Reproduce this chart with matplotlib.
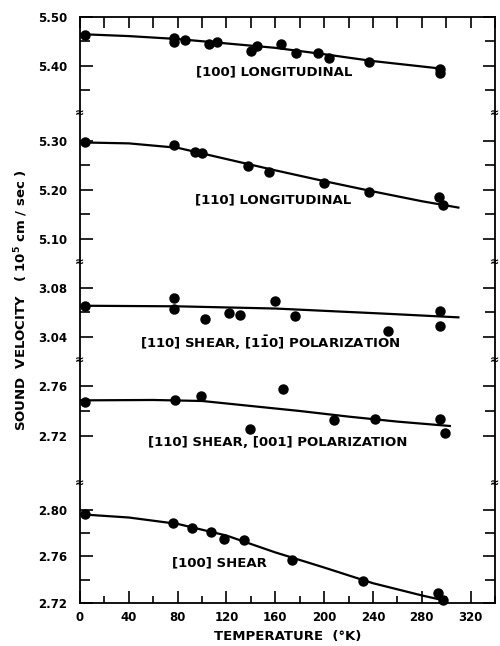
import matplotlib
matplotlib.use("Agg")
import matplotlib.pyplot as plt
from matplotlib.ticker import MultipleLocator, FixedLocator, FormatStrFormatter

plt.rcParams['font.family'] = ['DejaVu Sans']
plt.rcParams['font.weight'] = 'bold'
plt.rcParams['mathtext.fontset'] = 'dejavusans'

# ---- data (temperature in K, velocity in 1e5 cm/s) ----
T_100L = [4, 77, 77, 86, 106, 112, 140, 145, 165, 177, 195, 204, 237, 295, 295]
V_100L = [5.463, 5.458, 5.448, 5.454, 5.445, 5.449, 5.431, 5.441, 5.444, 5.427,
          5.427, 5.416, 5.408, 5.393, 5.385]
FT_100L = [0, 40, 80, 120, 160, 200, 240, 280, 298]
FV_100L = [5.465, 5.461, 5.455, 5.446, 5.437, 5.424, 5.410, 5.399, 5.394]

T_110L = [4, 77, 94, 100, 138, 155, 200, 237, 294, 297]
V_110L = [5.297, 5.291, 5.277, 5.276, 5.249, 5.237, 5.214, 5.196, 5.186, 5.169]
FT_110L = [0, 40, 80, 120, 160, 200, 240, 280, 310]
FV_110L = [5.297, 5.295, 5.286, 5.263, 5.240, 5.218, 5.197, 5.177, 5.164]

T_110S1 = [4, 77, 77, 102, 122, 131, 160, 176, 252, 295, 295]
V_110S1 = [3.0653, 3.0715, 3.0626, 3.0545, 3.0593, 3.0580, 3.0694, 3.0574,
           3.0451, 3.0615, 3.0493]
FT_110S1 = [0, 80, 160, 250, 310]
FV_110S1 = [3.0655, 3.0650, 3.0632, 3.0590, 3.0560]

T_110S2 = [4, 78, 99, 139, 166, 208, 242, 295, 299]
V_110S2 = [2.7474, 2.7488, 2.7520, 2.7253, 2.7573, 2.7328, 2.7333, 2.7333, 2.7222]
FT_110S2 = [0, 60, 100, 140, 180, 220, 260, 303]
FV_110S2 = [2.7485, 2.7488, 2.7480, 2.7440, 2.7400, 2.7355, 2.7315, 2.7280]

T_100S = [4, 76, 92, 107, 118, 134, 174, 232, 293, 297]
V_100S = [2.7963, 2.7884, 2.7847, 2.7810, 2.7753, 2.7741, 2.7569, 2.7389,
          2.7289, 2.7223]
FT_100S = [0, 40, 80, 120, 160, 200, 240, 280, 297]
FV_100S = [2.7963, 2.7935, 2.7880, 2.7780, 2.7635, 2.7505, 2.7370, 2.7265, 2.7225]

labels = ["[100] LONGITUDINAL", "[110] LONGITUDINAL",
          r"[110] SHEAR, [1$\mathbf{\bar{1}}$0] POLARIZATION",
          "[110] SHEAR, [001] POLARIZATION", "[100] SHEAR"]
label_pos = [(159, 5.388), (158, 5.180), (156, 3.0351), (162, 2.7144), (114, 2.7544)]

ylims = [(5.304, 5.50), (5.053, 5.357), (3.0212, 3.1012), (2.6824, 2.7808), (2.72, 2.8232)]
major_y = [[5.40, 5.50], [5.10, 5.20, 5.30], [3.04, 3.08], [2.72, 2.76], [2.72, 2.76, 2.80]]
minor_y = [[5.35, 5.45], [5.15, 5.25], [3.06], [2.74], [2.74, 2.78]]

series = [(T_100L, V_100L, FT_100L, FV_100L), (T_110L, V_110L, FT_110L, FV_110L),
          (T_110S1, V_110S1, FT_110S1, FV_110S1), (T_110S2, V_110S2, FT_110S2, FV_110S2),
          (T_100S, V_100S, FT_100S, FV_100S)]

fig = plt.figure(figsize=(5.0, 6.46), dpi=100)
gs = fig.add_gridspec(5, 1, height_ratios=[96, 149, 98, 123, 120], hspace=0,
                      left=0.16, right=0.99, top=0.9737, bottom=0.0666)
axes = []
for i in range(5):
    ax = fig.add_subplot(gs[i], sharex=axes[0] if axes else None)
    axes.append(ax)
    T, V, FT, FV = series[i]
    ax.plot(FT, FV, color='black', lw=1.6, zorder=2)
    ax.plot(T, V, 'o', color='black', ms=6.5, zorder=3, clip_on=False)
    ax.set_ylim(*ylims[i])
    ax.yaxis.set_major_locator(FixedLocator(major_y[i]))
    ax.yaxis.set_minor_locator(FixedLocator(minor_y[i]))
    ax.yaxis.set_major_formatter(FormatStrFormatter('%.2f'))
    ax.tick_params(axis='y', which='both', direction='in', left=True, right=True,
                   width=1.2, labelsize=8.5, pad=9)
    ax.tick_params(axis='y', which='major', length=9)
    ax.tick_params(axis='y', which='minor', length=7)
    for s in ax.spines.values():
        s.set_linewidth(1.3)
    if i > 0:
        ax.spines['top'].set_visible(False)
    if i < 4:
        ax.spines['bottom'].set_visible(False)
    ax.tick_params(axis='x', which='both', top=(i == 0), bottom=(i == 4),
                   labelbottom=(i == 4), labeltop=False, direction='in', width=1.2)
    lx, ly = label_pos[i]
    ax.text(lx, ly, labels[i], ha='center', va='center', fontsize=9.5,
            fontweight='bold')
    if i > 0:
        for xa in (0, 1):
            ax.text(xa, 1.0, '≈', transform=ax.transAxes, ha='center', va='center',
                    fontsize=8, fontweight='bold', clip_on=False, zorder=5)

axes[0].set_xlim(0, 340)
axes[0].xaxis.set_major_locator(MultipleLocator(40))
axes[0].xaxis.set_minor_locator(MultipleLocator(20))
axes[0].tick_params(axis='x', which='both', length=8)
axes[4].tick_params(axis='x', which='major', length=9, labelsize=8.5, pad=6)
axes[4].tick_params(axis='x', which='minor', length=5)
axes[4].set_xlabel('TEMPERATURE  (°K)', fontsize=9.5, fontweight='bold', labelpad=4)

fig.text(0.042, 0.535, r'SOUND  VELOCITY   ( 10$^{\mathbf{5}}$ cm / sec )', rotation=90,
         ha='center', va='center', fontsize=9.5, fontweight='bold')

fig.savefig('out.png', dpi=100, facecolor='white')
